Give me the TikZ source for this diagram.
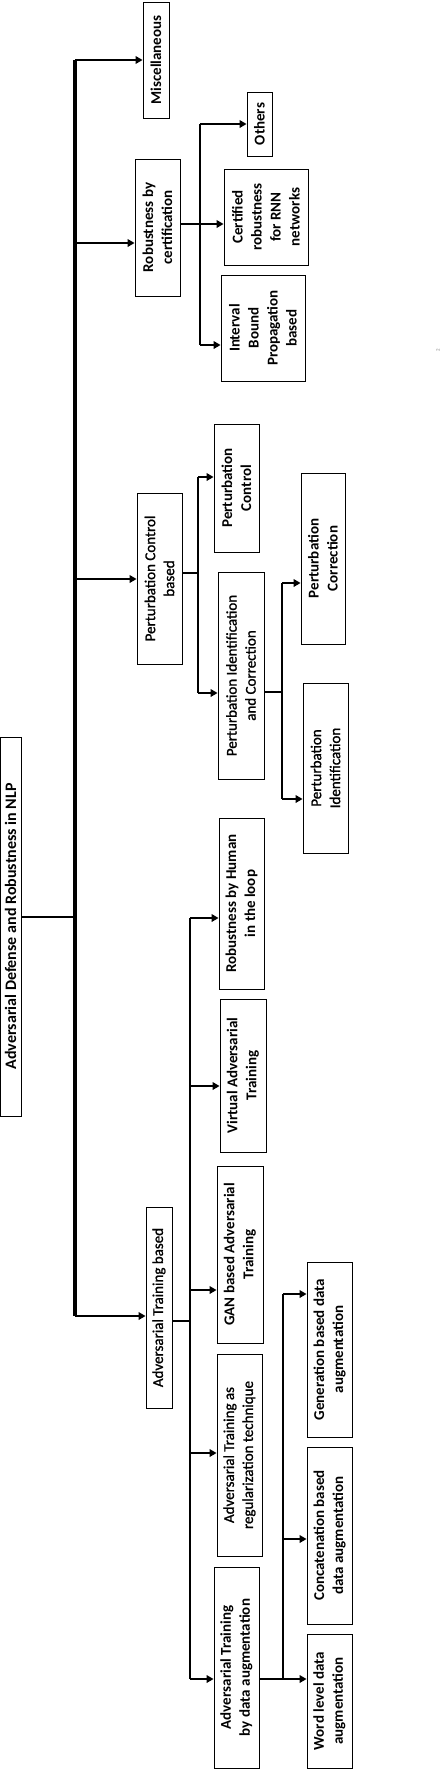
\documentclass[tikz,border=0pt]{standalone}
\usepackage{fontspec}
\setmainfont{Carlito}
\newfontfamily\semifont[FakeBold=1.2]{Carlito}
\usetikzlibrary{arrows.meta}

\begin{document}
\begin{tikzpicture}[x=1pt,y=-1pt,
  box/.style={draw=black,line width=0.8pt,rotate=90,align=center,inner sep=1pt,font=\fontsize{15}{19}\selectfont\semifont},
  boxb/.style={box,font=\fontsize{15}{19}\selectfont\bfseries},
  arr/.style={line width=2.6pt,-{Triangle[length=7pt,width=7.5pt]}},
  ln/.style={line width=2.6pt},
  trunk/.style={line width=3.2pt}]
\useasboundingbox (0,0) rectangle (442,1770);

% root and first level
\node[boxb,minimum width=379pt,minimum height=21pt,font=\fontsize{16}{19}\selectfont\bfseries] (root) at (10.5,926.5) {Adversarial Defense and Robustness in NLP};
\node[boxb,minimum width=116pt,minimum height=26pt] (misc) at (156,60) {Miscellaneous};
\node[boxb,minimum width=137pt,minimum height=45pt] (rbc) at (157.5,227.5) {Robustness by\\certification};
\node[box,minimum width=171pt,minimum height=45pt] (pcb) at (159.5,578.5) {Perturbation Control\\based};
\node[box,minimum width=201pt,minimum height=26pt] (atb) at (159,1307.5) {Adversarial Training based};

% certification
\node[boxb,minimum width=64pt,minimum height=25pt] (others) at (259.5,124) {Others};
\node[boxb,minimum width=96pt,minimum height=84pt] (cert) at (266,217) {Certified\\robustness\\for RNN\\networks};
\node[boxb,minimum width=106pt,minimum height=84pt] (ibp) at (263,328) {Interval\\Bound\\Propagation\\based};

% perturbation control
\node[boxb,minimum width=128pt,minimum height=45pt] (pc) at (236.5,488) {Perturbation\\Control};
\node[box,minimum width=207pt,minimum height=46pt] (pic) at (241,675.5) {Perturbation Identification\\and Correction};
\node[boxb,minimum width=171pt,minimum height=44pt] (pcorr) at (323,558.5) {Perturbation\\Correction};
\node[box,minimum width=170pt,minimum height=45pt] (pid) at (325.5,768) {Perturbation\\Identification};

% adversarial training
\node[boxb,minimum width=171pt,minimum height=45pt] (human) at (241.5,903.5) {Robustness by Human\\in the loop};
\node[boxb,minimum width=153pt,minimum height=46pt] (vat) at (243,1075.5) {Virtual Adversarial\\Training};
\node[boxb,minimum width=177pt,minimum height=46pt] (gan) at (240,1254.5) {GAN based Adversarial\\Training};
\node[box,minimum width=202pt,minimum height=45pt] (atreg) at (239.5,1455) {Adversarial Training as\\regularization technique};
\node[boxb,minimum width=201pt,minimum height=45pt] (atda) at (236.5,1667.5) {Adversarial Training\\by data augmentation};
\node[boxb,minimum width=175pt,minimum height=45pt] (gen) at (329.5,1349.5) {Generation based data\\augmentation};
\node[boxb,minimum width=177pt,minimum height=45pt] (concat) at (329.5,1535.5) {Concatenation based\\data augmentation};
\node[boxb,minimum width=134pt,minimum height=45pt] (word) at (329.5,1701) {Word level data\\augmentation};

\node[rotate=90,font=\tiny,text=gray,inner sep=0pt] (pg) at (438,350) {2};

% trunk points
\coordinate (r0) at (75,917);
\coordinate (m1) at (75,60);  \coordinate (m2) at (75,243);
\coordinate (m3) at (75,579); \coordinate (m4) at (75,1316);
\coordinate (c1) at (200,124); \coordinate (c2) at (200,224); \coordinate (c3) at (200,345);
\coordinate (p0) at (198,573); \coordinate (p1) at (198,477); \coordinate (p2) at (198,693);
\coordinate (q0) at (282,692); \coordinate (q1) at (282,583); \coordinate (q2) at (282,799);
\coordinate (a0) at (190,1321); \coordinate (a1) at (190,918); \coordinate (a2) at (190,1086);
\coordinate (a3) at (190,1290); \coordinate (a4) at (190,1453); \coordinate (a5) at (190,1679);
\coordinate (d1) at (283,1294); \coordinate (d2) at (283,1539); \coordinate (d3) at (283,1679);

\draw[trunk] (m1)--(m4);
\draw[ln] (c1)--(c3); \draw[ln] (p1)--(p2); \draw[ln] (q1)--(q2);
\draw[ln] (a1)--(a5); \draw[ln] (d1)--(d3);

\draw[ln] (r0 -| root.south)--(r0);
\draw[ln] (c2 -| rbc.south)--(c2);
\draw[ln] (p0 -| pcb.south)--(p0);
\draw[ln] (q0 -| pic.south)--(q0);
\draw[ln] (a0 -| atb.south)--(a0);
\draw[ln] (d3 -| atda.south)--(d3);

\foreach \c/\n in {m1/misc,m2/rbc,m3/pcb,m4/atb,c1/others,c2/cert,c3/ibp,p1/pc,p2/pic,q1/pcorr,q2/pid,a1/human,a2/vat,a3/gan,a4/atreg,a5/atda,d1/gen,d2/concat,d3/word}{
  \draw[arr] (\c)--(\c -| \n.north);}
\end{tikzpicture}
\end{document}
